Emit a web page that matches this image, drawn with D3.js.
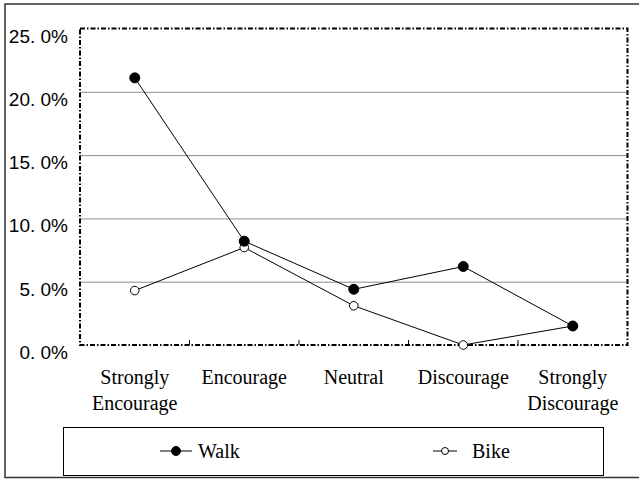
<!DOCTYPE html>
<html>
<head>
<meta charset="utf-8">
<style>
  body { margin: 0; background: #fff; }
  svg { display: block; }
  .serif { font-family: "Liberation Serif", "Times New Roman", serif; }
</style>
</head>
<body>
<svg width="639" height="480"></svg>
<script src="https://cdn.jsdelivr.net/npm/d3@7/dist/d3.min.js"></script>
<script>
// data
var categories = ["Strongly Encourage", "Encourage", "Neutral", "Discourage", "Strongly Discourage"];
var walk = [21.1, 8.2, 4.4, 6.2, 1.5];
var bike = [4.3, 7.7, 3.1, 0.0, 1.5];
var yTicks = [0, 5, 10, 15, 20, 25];
var seriesNames = ["Walk", "Bike"];

var svg = d3.select("svg");
var plot = {left: 80, right: 627.5, top: 28.5, bottom: 345};

var x = d3.scaleBand().domain(categories).range([plot.left, plot.right]);
var y = d3.scaleLinear().domain([0, 25]).range([plot.bottom, plot.top]);

// outer frame (right side runs off the picture)
svg.append("rect")
  .attr("x", 5).attr("y", 4).attr("width", 650).attr("height", 473.5)
  .attr("fill", "none").attr("stroke", "#333").attr("stroke-width", 1.5);

// gridlines
svg.append("g")
  .attr("transform", "translate(" + plot.left + ",0)")
  .call(d3.axisLeft(y).tickValues(yTicks.slice(1, -1)).tickSize(-(plot.right - plot.left)).tickFormat(""))
  .call(function(g){ g.select(".domain").remove(); })
  .selectAll("line").attr("stroke", "#8c8c8c").attr("stroke-width", 1);

// y labels, "25. 0%" style
var yAxis = svg.append("g")
  .attr("transform", "translate(68,0)")
  .call(d3.axisLeft(y).tickValues(yTicks).tickSize(0).tickPadding(0)
    .tickFormat(function(d){ return d3.format(".1f")(d).replace(".", ". ") + "%"; }));
yAxis.select(".domain").remove();
yAxis.selectAll("text")
  .attr("dy", 13.5)
  .style("font-family", "'Liberation Sans', Arial, sans-serif")
  .style("font-size", "19px").attr("fill", "#000");

// category boundary ticks (pointing up from the bottom edge)
svg.append("g").selectAll("line")
  .data(categories.slice(1))
  .enter().append("line")
  .attr("x1", function(d){ return x(d); }).attr("x2", function(d){ return x(d); })
  .attr("y1", plot.bottom).attr("y2", plot.bottom - 5)
  .attr("stroke", "#000").attr("stroke-width", 1);

// dash-dot plot frame
svg.append("rect")
  .attr("x", plot.left).attr("y", plot.top)
  .attr("width", plot.right - plot.left).attr("height", plot.bottom - plot.top)
  .attr("fill", "none").attr("stroke", "#000").attr("stroke-width", 2)
  .attr("stroke-dasharray", "5,2,1.5,2");

// category labels
var xl = svg.append("g").selectAll("text")
  .data(categories)
  .enter().append("text")
  .attr("class", "serif")
  .attr("x", function(d){ return x(d) + x.bandwidth() / 2; })
  .attr("y", 384)
  .attr("text-anchor", "middle")
  .style("font-size", "20px").attr("fill", "#000");
xl.each(function(d){
  var words = d.split(" ");
  var t = d3.select(this);
  words.forEach(function(w, i){
    t.append("tspan").attr("x", x(d) + x.bandwidth() / 2).attr("dy", i ? 26 : 0).text(w);
  });
});

var line = d3.line()
  .x(function(d, i){ return x(categories[i]) + x.bandwidth() / 2; })
  .y(function(d){ return y(d); });

function drawSeries(vals, fill, r) {
  svg.append("path").datum(vals)
    .attr("d", line).attr("fill", "none").attr("stroke", "#000").attr("stroke-width", 1);
  svg.append("g").selectAll("circle")
    .data(vals).enter().append("circle")
    .attr("cx", function(d, i){ return x(categories[i]) + x.bandwidth() / 2; })
    .attr("cy", function(d){ return y(d); })
    .attr("r", r)
    .attr("fill", fill).attr("stroke", "#000").attr("stroke-width", 1);
}
drawSeries(bike, "#fff", 4.3);
drawSeries(walk, "#000", 5);

// legend
svg.append("rect")
  .attr("x", 63.5).attr("y", 427.5).attr("width", 540).attr("height", 48)
  .attr("fill", "#fff").attr("stroke", "#000").attr("stroke-width", 1);

var legendX = [160, 433];
var leg = svg.append("g").selectAll("g")
  .data(seriesNames).enter().append("g")
  .attr("transform", function(d, i){ return "translate(" + legendX[i] + ",451)"; });
leg.append("line").attr("x1", 0).attr("x2", function(d, i){ return i ? 24 : 32; })
  .attr("stroke", "#000").attr("stroke-width", 1);
leg.append("circle")
  .attr("cx", function(d, i){ return i ? 12 : 16; })
  .attr("r", function(d, i){ return i ? 3.5 : 4.5; })
  .attr("fill", function(d, i){ return i ? "#fff" : "#000"; })
  .attr("stroke", "#000").attr("stroke-width", 1);
leg.append("text")
  .attr("class", "serif")
  .attr("x", function(d, i){ return i ? 39 : 38; })
  .attr("y", 7)
  .style("font-size", "20px").attr("fill", "#000")
  .text(function(d){ return d; });
</script>
</body>
</html>
